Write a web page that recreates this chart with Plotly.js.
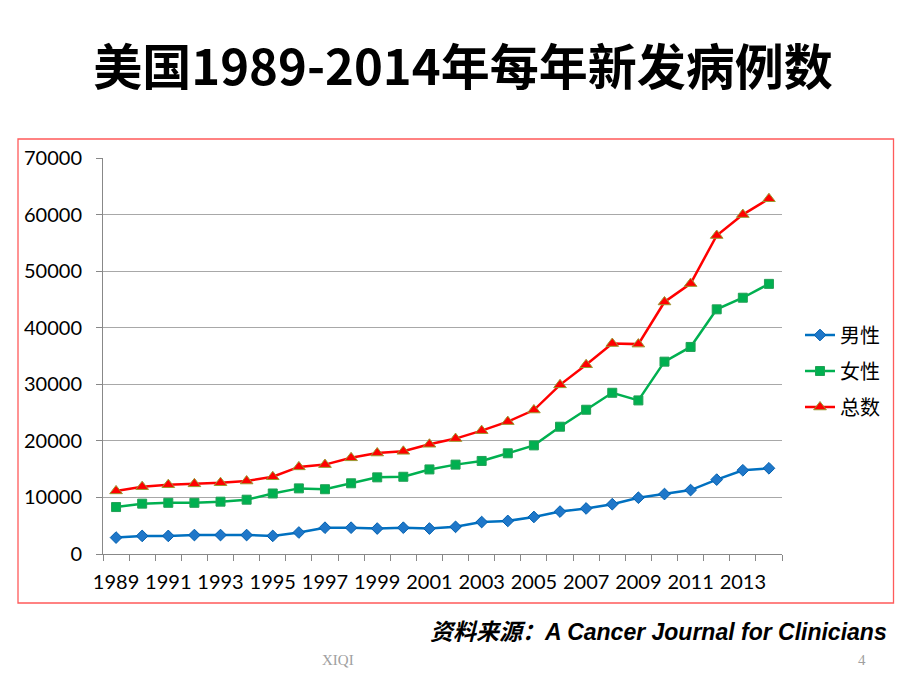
<!DOCTYPE html>
<html>
<head>
<meta charset="utf-8">
<script src="https://cdn.plot.ly/plotly-3.0.1.min.js"></script>
<style>html,body{margin:0;padding:0;background:#fff;}#chart{width:920px;height:690px;}</style>
</head>
<body>
<div id="chart"></div>
<script>
const years = ['1989','1990','1991','1992','1993','1994','1995','1996','1997','1998','1999','2000','2001',
               '2002','2003','2004','2005','2006','2007','2008','2009','2010','2011','2012','2013','2014'];
const tickLabels = ['1989','','1991','','1993','','1995','','1997','','1999','','2001',
                    '','2003','','2005','','2007','','2009','','2011','','2013',''];
const male = [2900,3200,3200,3350,3350,3350,3200,3800,4650,4650,4500,4650,4500,
              4800,5650,5850,6550,7500,8050,8800,9950,10600,11300,13150,14800,15150];
const female = [8300,8900,9050,9050,9250,9600,10700,11600,11450,12500,13550,13650,14950,
                15800,16450,17800,19200,22500,25500,28500,27150,34000,36600,43250,45300,47750];
const total = [11150,11900,12250,12400,12600,12900,13650,15400,15800,17000,17850,18150,19400,
               20400,21800,23400,25450,29900,33450,37200,37100,44550,47800,56300,60000,62800];
const seriesNames = ['男性','女性','总数'];

const fam = 'Lato, "Noto Sans", "Noto Sans CJK SC", sans-serif';
const cjk = '"Noto Sans CJK SC", sans-serif';

const traces = [
  {x: years, y: male, name: seriesNames[0], legendgroup: 'a', type: 'scatter', mode: 'lines+markers',
   line: {color: '#0070c0', width: 2.5}, marker: {symbol: 'diamond', size: 9, color: '#1f77c9', line: {color: '#0060b0', width: 1}}},
  {x: years, y: female, name: seriesNames[1], legendgroup: 'b', type: 'scatter', mode: 'lines+markers',
   line: {color: '#00b050', width: 2.5}, marker: {symbol: 'square', size: 9, color: '#00b050', line: {color: '#22a055', width: 1}}},
  {x: years, y: total, name: seriesNames[2], legendgroup: 'c', type: 'scatter', mode: 'lines+markers',
   line: {color: '#ff0000', width: 2.5}, marker: {symbol: 'triangle-up', size: 11, color: '#ff0000', line: {color: '#9a9a30', width: 1}}}
];

const L = 103, R = 782, T = 158, B = 554, W = R - L, H = B - T;
const px = v => (v - L) / W;
const py = v => (B - v) / H;

const layout = {
  width: 920, height: 690,
  margin: {l: L, r: 920 - R, t: T, b: 690 - B},
  paper_bgcolor: '#ffffff', plot_bgcolor: '#ffffff',
  showlegend: true,
  title: {text: '美国1989-2014年每年新发病例数', font: {family: cjk, size: 49, color: '#000000', weight: 'bold'},
          x: 463 / 920, xanchor: 'center', y: 1 - 68 / 690, yanchor: 'middle', yref: 'container', xref: 'container'},
  xaxis: {type: 'category', range: [-0.5, years.length - 0.5], tickvals: years, ticktext: tickLabels, tickson: 'boundaries',
          tickangle: 0, ticks: 'outside', ticklen: 6, tickcolor: '#888888', tickwidth: 1,
          showline: true, linecolor: '#888888', linewidth: 1, showgrid: false, zeroline: false,
          tickfont: {family: fam, size: 20, color: '#000000'}, ticklabelstandoff: 10, fixedrange: true},
  yaxis: {range: [0, 70000], dtick: 10000, tickformat: 'd', ticks: 'outside', ticklen: 6, tickcolor: '#888888',
          showline: true, linecolor: '#888888', linewidth: 1, showgrid: true, gridcolor: '#a8a8a8', gridwidth: 1,
          zeroline: false, tickfont: {family: fam, size: 20, color: '#000000'}, ticklabelstandoff: 10, fixedrange: true},
  legend: {x: px(800), xanchor: 'left', y: py(371), yanchor: 'middle', traceorder: 'grouped', tracegroupgap: 7,
           itemwidth: 30, bgcolor: 'rgba(0,0,0,0)', font: {family: cjk, size: 20, color: '#000000'}},
  shapes: [
    {type: 'rect', xref: 'paper', yref: 'paper', x0: px(18), x1: px(893.5), y0: py(603), y1: py(139),
     line: {color: '#ff5a5a', width: 1.3}, fillcolor: 'rgba(0,0,0,0)'}
  ],
  annotations: [
    {text: '资料来源：A Cancer Journal for Clinicians', xref: 'paper', yref: 'paper', x: px(889), y: py(632),
     xanchor: 'right', yanchor: 'middle', showarrow: false,
     font: {family: '"Liberation Sans", Arial, "Noto Sans CJK SC", sans-serif', size: 23, color: '#000000', weight: 'bold', style: 'italic'}},
    {text: 'XIQI', xref: 'paper', yref: 'paper', x: px(338), y: py(660), xanchor: 'center', yanchor: 'middle', showarrow: false,
     font: {family: '"Liberation Serif", "DejaVu Serif", serif', size: 15, color: '#a0a0a0'}},
    {text: '4', xref: 'paper', yref: 'paper', x: px(862), y: py(660), xanchor: 'center', yanchor: 'middle', showarrow: false,
     font: {family: '"Liberation Serif", "DejaVu Serif", serif', size: 15, color: '#a0a0a0'}}
  ]
};

Plotly.newPlot('chart', traces, layout, {displayModeBar: false, staticPlot: true});
</script>
</body>
</html>
